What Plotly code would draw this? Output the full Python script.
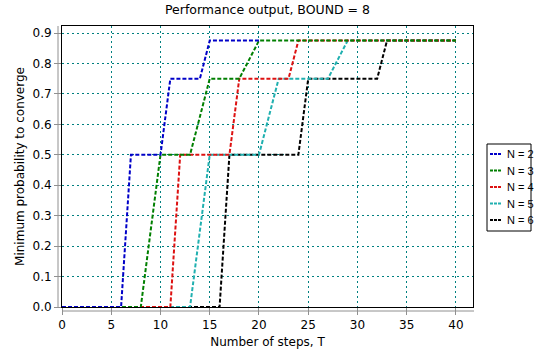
import plotly.graph_objects as go

# Data
series_names = ["N = 2", "N = 3", "N = 4", "N = 5", "N = 6"]
t_n2 = [0, 6, 7, 10, 11, 14, 15, 20]
p_n2 = [0, 0, 0.5, 0.5, 0.75, 0.75, 0.875, 0.875]
t_n3 = [0, 8, 10, 13, 15, 18, 20, 40]
p_n3 = [0, 0, 0.5, 0.5, 0.75, 0.75, 0.875, 0.875]
t_n4 = [0, 11, 12, 17, 18, 23, 24, 40]
p_n4 = [0, 0, 0.5, 0.5, 0.75, 0.75, 0.875, 0.875]
t_n5 = [0, 13, 15, 20, 22, 27, 29, 40]
p_n5 = [0, 0, 0.5, 0.5, 0.75, 0.75, 0.875, 0.875]
t_n6 = [0, 16, 17, 24, 25, 32, 33, 40]
p_n6 = [0, 0, 0.5, 0.5, 0.75, 0.75, 0.875, 0.875]

x_ticks = [0, 5, 10, 15, 20, 25, 30, 35, 40]
y_ticks = [0.0, 0.1, 0.2, 0.3, 0.4, 0.5, 0.6, 0.7, 0.8, 0.9]
y_tick_labels = ["0.0", "0.1", "0.2", "0.3", "0.4", "0.5", "0.6", "0.7", "0.8", "0.9"]

colors = ["#0000C8", "#007F00", "#DD1111", "#20B0B0", "#000000"]
ts = [t_n2, t_n3, t_n4, t_n5, t_n6]
ps = [p_n2, p_n3, p_n4, p_n5, p_n6]

W, H = 538, 357
L, R, T, B = 62, 65, 26, 50
PW, PH = W - L - R, H - T - B


def pxx(x):
    return (x - L) / PW


def pxy(y):
    return (H - B - y) / PH


FONT = "DejaVu Sans"
LFONT = "Liberation Sans"
fig = go.Figure()
# draw N=6 first so N=2 ends up on top
for i in reversed(range(5)):
    fig.add_trace(go.Scatter(
        x=ts[i], y=ps[i], mode="lines", name=series_names[i],
        line=dict(color=colors[i], width=2, dash="4px,2px"),
        showlegend=False, hoverinfo="skip",
    ))

# offset gray axis lines (decoration, as in the reference)
shapes = [
    dict(type="line", xref="paper", yref="paper",
         x0=pxx(58), x1=pxx(58), y0=pxy(307), y1=pxy(26),
         line=dict(color="#909090", width=1)),
    dict(type="line", xref="paper", yref="paper",
         x0=pxx(62), x1=pxx(474), y0=pxy(311), y1=pxy(311),
         line=dict(color="#909090", width=1)),
]
# hand-built compact legend (decoration)
shapes.append(dict(type="rect", xref="paper", yref="paper",
                   x0=pxx(487), x1=pxx(531), y0=pxy(144), y1=pxy(231),
                   line=dict(color="black", width=1)))
annotations = []
for i, name in enumerate(series_names):
    yy = 154 + 16.5 * i
    shapes.append(dict(type="line", xref="paper", yref="paper",
                       x0=pxx(490), x1=pxx(501), y0=pxy(yy), y1=pxy(yy),
                       line=dict(color=colors[i], width=2, dash="3px,1px")))
    annotations.append(dict(text=name, xref="paper", yref="paper",
                            x=pxx(505), y=pxy(yy), xanchor="left", yanchor="middle",
                            showarrow=False,
                            font=dict(family=LFONT, size=11, color="black")))

fig.update_layout(
    width=W, height=H,
    margin=dict(l=L, r=R, t=T, b=B),
    paper_bgcolor="white", plot_bgcolor="white",
    font=dict(family=FONT, size=12, color="black"),
    title=dict(text="Performance output, BOUND = 8", x=0.5, xref="paper",
               y=1 - 10 / H, yref="container", yanchor="middle",
               font=dict(family=FONT, size=12.5, color="black")),
    showlegend=False,
    shapes=shapes,
    annotations=annotations,
)
fig.update_xaxes(
    range=[0, 41.73], tickvals=x_ticks, ticktext=[str(v) for v in x_ticks],
    showgrid=True, gridcolor="#008080", gridwidth=1, griddash="2px,3px",
    showline=True, linecolor="black", linewidth=1, mirror=True,
    ticks="outside", ticklen=7, tickcolor="#909090",
    zeroline=False, tickfont=dict(size=12), automargin=False,
    title=dict(text="Number of steps, T", standoff=6, font=dict(size=12)),
)
fig.update_yaxes(
    range=[0, 0.923], tickvals=y_ticks, ticktext=y_tick_labels,
    showgrid=True, gridcolor="#008080", gridwidth=1, griddash="2px,3px",
    showline=True, linecolor="black", linewidth=1, mirror=True,
    ticks="outside", ticklen=7, tickcolor="#909090",
    zeroline=False, tickfont=dict(size=12), automargin=False,
    title=dict(text="Minimum probability to converge", standoff=5, font=dict(size=12)),
)

fig.write_html("out.html", config={"displayModeBar": False},
               post_script="document.body.style.margin='0';")
